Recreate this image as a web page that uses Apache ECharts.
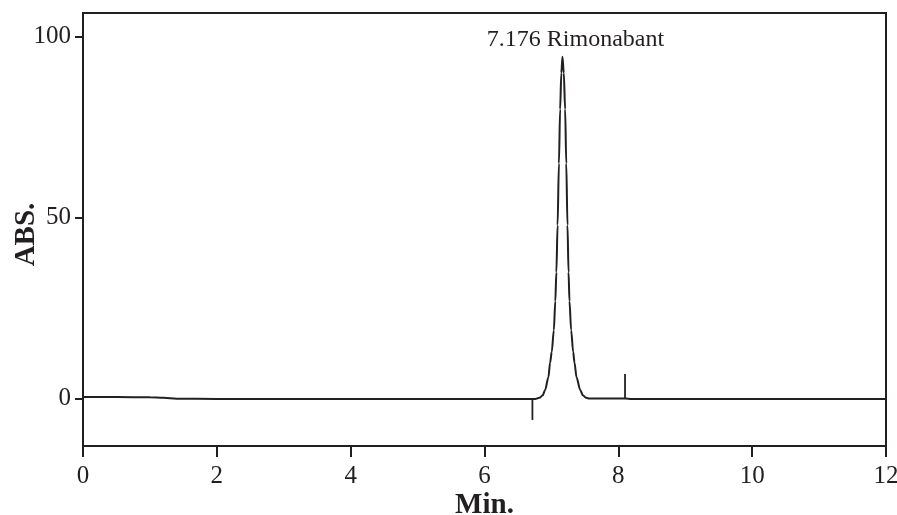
<!DOCTYPE html>
<html>
<head>
<meta charset="utf-8">
<script src="https://cdn.jsdelivr.net/npm/echarts@6/dist/echarts.min.js"></script>
<style>
html,body{margin:0;padding:0;background:#fff;}
#chart{width:897px;height:515px;}
</style>
</head>
<body>
<div id="chart"></div>
<script>
// Time (min) and absorbance readings of the chromatogram trace
const timeMin = [0, 0.5, 1.0, 1.2, 1.4, 2, 3, 4, 5, 6, 6.70, 6.76, 6.82, 6.87, 6.906, 6.955, 6.98, 7.005, 7.036, 7.058, 7.074, 7.092, 7.112, 7.13, 7.148, 7.165, 7.185, 7.205, 7.222, 7.24, 7.256, 7.27, 7.295, 7.325, 7.345, 7.375, 7.43, 7.47, 7.52, 7.57, 7.8, 8.1, 8.2, 9, 10, 11, 12];
const absVals = [0.5, 0.5, 0.45, 0.3, 0.05, 0, 0, 0, 0, 0, 0, 0, 0.3, 1, 2.5, 6, 10, 13, 19, 27, 35, 48, 65, 80, 90, 94.5, 90, 80, 65, 48, 35, 27, 19, 13, 10, 6, 2.5, 1, 0.3, 0.1, 0.1, 0.1, 0, 0, 0, 0, 0];
// Integration event markers
const markerStartX = [6.716, 6.716];
const markerStartY = [0, -5.8];
const markerEndX = [8.10, 8.10];
const markerEndY = [0, 6.9];
// Peak annotation
const peakTime = 7.165;
const peakHeight = 94.5;
const peakLabel = '7.176 Rimonabant';
// Axis ticks
const xTicks = [0, 2, 4, 6, 8, 10, 12];
const yTicks = [0, 50, 100];

const zip = (a, b) => a.map((v, i) => [v, b[i]]);
const ink = '#231f20';
const serif = '"Liberation Serif", "Times New Roman", serif';

const chart = echarts.init(document.getElementById('chart'));
chart.setOption({
  animation: false,
  grid: { left: 83, right: 11, top: 13, bottom: 69, containLabel: false, outerBoundsMode: 'none', show: true, borderColor: ink, borderWidth: 2, backgroundColor: 'transparent' },
  xAxis: {
    type: 'value', min: 0, max: 12, interval: 2,
    axisLine: { show: true, onZero: false, lineStyle: { color: ink, width: 2 } },
    axisTick: { show: true, inside: false, length: 11, lineStyle: { color: ink, width: 2 } },
    axisLabel: { margin: 18, color: ink, fontFamily: serif, fontSize: 25, customValues: xTicks },
    splitLine: { show: false },
    name: 'Min.', nameLocation: 'middle', nameGap: 45, nameMoveOverlap: false,
    nameTextStyle: { color: ink, fontFamily: serif, fontSize: 29, fontWeight: 'bold' }
  },
  yAxis: {
    type: 'value', min: -13, max: 106.6,
    axisLine: { show: true, onZero: false, lineStyle: { color: ink, width: 2 } },
    axisTick: { show: true, inside: false, length: 8, lineStyle: { color: ink, width: 2 }, customValues: yTicks },
    axisLabel: { margin: 12, color: ink, fontFamily: serif, fontSize: 25, customValues: yTicks },
    splitLine: { show: false },
    name: 'ABS.', nameLocation: 'middle', nameGap: 42, nameRotate: 90, nameMoveOverlap: false,
    nameTextStyle: { color: ink, fontFamily: serif, fontSize: 29, fontWeight: 'bold', padding: [0, 10, 0, 0] }
  },
  series: [
    {
      type: 'line', data: zip(timeMin, absVals), showSymbol: false, smooth: 0.3, smoothMonotone: 'x',
      lineStyle: { color: ink, width: 2 },
      markPoint: {
        symbol: 'circle', symbolSize: 1, itemStyle: { color: 'rgba(0,0,0,0)' },
        label: { show: true, position: 'inside', offset: [13, -17], color: ink, fontFamily: serif, fontSize: 24, formatter: peakLabel },
        data: [{ coord: [peakTime, peakHeight] }]
      }
    },
    { type: 'line', data: zip(markerStartX, markerStartY), showSymbol: false, lineStyle: { color: ink, width: 1.8 } },
    { type: 'line', data: zip(markerEndX, markerEndY), showSymbol: false, lineStyle: { color: ink, width: 1.8 } }
  ]
});
</script>
</body>
</html>
